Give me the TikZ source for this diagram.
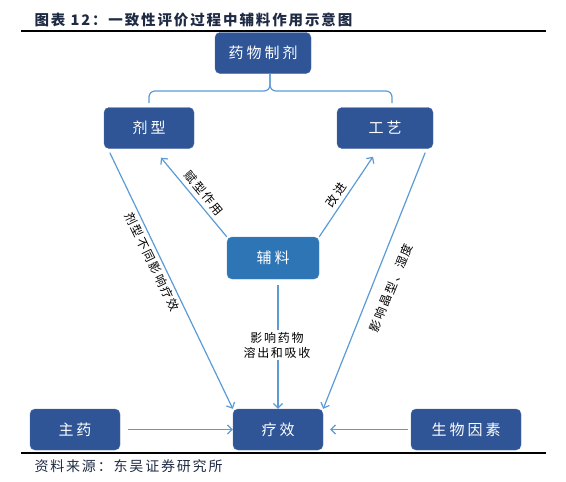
\documentclass[tikz,border=0pt]{standalone}
\usepackage{fontspec}
\newfontfamily\cjkbox[LetterSpace=20]{Noto Sans CJK SC}
\newfontfamily\cjklab[LetterSpace=14]{Noto Sans CJK SC}
\newfontfamily\cjktxt[LetterSpace=13]{Noto Sans CJK SC}
\usetikzlibrary{arrows.meta}

\begin{document}
\begin{tikzpicture}[x=1pt, y=-1pt,
    box/.style={fill=boxBlue, draw=boxBlue!85!white, rounded corners=5pt, text=white,
        font=\cjkbox\fontsize{15}{18}\selectfont, minimum height=41pt, inner sep=0pt},
    link/.style={draw=lineBlue, line width=1.2pt, -{Straight Barb[length=4.5pt,width=9pt]}},
    brace/.style={draw=lineBlue, line width=1.2pt, rounded corners=6pt},
    lab/.style={font=\cjklab\fontsize{12}{15}\selectfont, inner sep=1pt}]
    % Define colours
    \definecolor{boxBlue}{HTML}{2F5597}
    \definecolor{auxBlue}{HTML}{2E75B6}
    \definecolor{lineBlue}{HTML}{5B9BD5}
    \definecolor{titleCol}{HTML}{1F2A44}

    \useasboundingbox (0,0) rectangle (566,482);

    % Title, rules and source
    \node[anchor=west, text=titleCol, font=\cjktxt\bfseries\fontsize{14.5}{16}\selectfont] (title) at (31,20) {图表 12：一致性评价过程中辅料作用示意图};
    \draw[line width=1.1pt] (21,31) -- (546,31);
    \draw[line width=1.1pt] (21,453) -- (546,453);
    \node[anchor=west, text=titleCol, font=\cjktxt\fontsize{14}{16}\selectfont] (src) at (31,466) {资料来源：东吴证券研究所};

    % Boxes
    \node[box, minimum width=96pt] (zj) at (263,53) {药物制剂};
    \node[box, minimum width=90pt] (jx) at (149,128) {剂型};
    \node[box, minimum width=96pt] (gy) at (385,128) {工艺};
    \node[box, fill=auxBlue, draw=auxBlue!85!white, minimum width=92pt, minimum height=42pt] (fl) at (273,258) {辅料};
    \node[box, minimum width=90pt] (zy) at (75,429.5) {主药};
    \node[box, minimum width=90pt] (lx) at (278,429.5) {疗效};
    \node[box, minimum width=110pt] (sw) at (466,429.5) {生物因素};

    % Brace under the top box
    \coordinate (bl) at (149,103);
    \coordinate (br) at (392,103);
    \coordinate (bm) at (270,91);
    \draw[brace] (bl) |- (bm) -- (zj.south -| bm);
    \draw[brace] (br) |- (bm) -- (zj.south -| bm);

    % Connectors
    \draw[link] ([xshift=6pt,yshift=-4pt]jx.south west) -- (lx.north west);
    \draw[link] (fl.north west) -- ([xshift=12pt,yshift=-9pt]jx.south);
    \draw[link] (fl.north east) -- ([xshift=-12pt,yshift=-8pt]gy.south);
    \draw[link] ([xshift=-8pt,yshift=-4pt]gy.south east) -- (lx.north east);
    \draw[link] ([yshift=-6pt]fl.south -| lx.north) -- (lx.north);
    \draw[link] ([xshift=8pt]zy.east) -- (lx.west);
    \draw[link] ([xshift=-3pt]sw.west) -- ([xshift=7pt]lx.east);

    % Labels
    \node[lab, rotate=-50] (l1) at (204,193) {赋型作用};
    \node[lab, rotate=-64] (l2) at (152,262) {剂型不同影响疗效};
    \node[lab, rotate=56] (l3) at (336,195) {改进};
    \node[lab, rotate=68] (l4) at (391,288) {影响晶型、湿度};
    \node[lab, fill=white, align=center, inner sep=2pt] (l5) at (277,345) {影响药物\\溶出和吸收};

\end{tikzpicture}
\end{document}
